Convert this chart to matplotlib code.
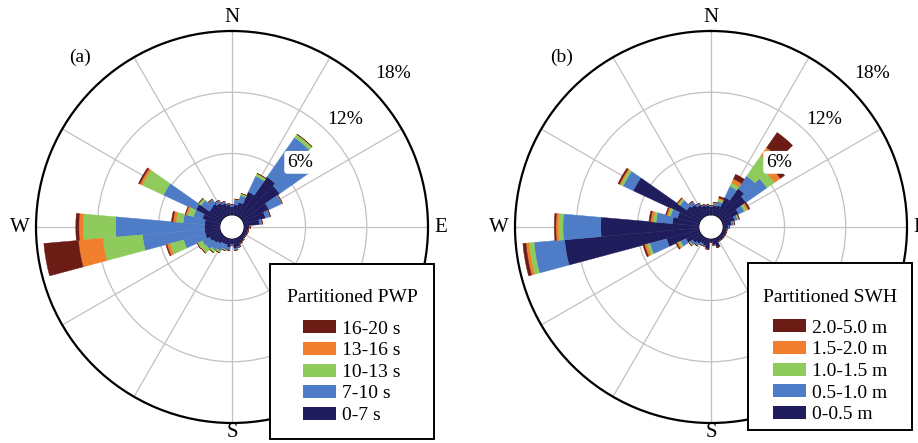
import matplotlib
matplotlib.use("Agg")
import matplotlib.pyplot as plt
from matplotlib.patches import Patch, Rectangle
import numpy as np

plt.rcParams['font.family'] = ['Liberation Serif', 'DejaVu Serif']

# direction sectors (deg, clockwise from N), 10 deg bins
directions = np.arange(0, 360, 10)

# (a) partitioned peak wave period, frequency in % per class
pwp_labels = ["0-7 s", "7-10 s", "10-13 s", "13-16 s", "16-20 s"]
pwp_0_7 = [0.8, 1.0, 1.3, 2.6, 4.8, 4.5, 2.8, 2.2, 1.5, 0.5, 0.4, 0.4,
           0.4, 0.4, 0.5, 0.6, 0.8, 0.9, 0.5, 0.8, 0.6, 0.6, 0.8, 1.0,
           1.2, 1.5, 1.5, 1.5, 1.5, 1.8, 2.7, 1.5, 1.6, 1.4, 1.2, 1.0]
pwp_7_10 = [0.2, 0.5, 0.7, 1.7, 4.7, 3.5, 1.4, 0.5, 0.3, 0.1, 0.05, 0.05,
            0.0, 0.0, 0.0, 0.0, 0.1, 0.2, 0.1, 0.3, 0.5, 0.8, 0.8, 0.9,
            0.8, 2.2, 6.1, 8.7, 2.1, 0.9, 3.5, 1.0, 0.5, 0.3, 0.2, 0.1]
pwp_10_13 = [0.0, 0.05, 0.2, 0.3, 0.4, 0.1, 0.05, 0.0, 0.0, 0.0, 0.0, 0.0,
             0.0, 0.0, 0.0, 0.0, 0.0, 0.0, 0.0, 0.0, 0.1, 0.2, 0.3, 0.5,
             0.5, 1.4, 3.9, 3.2, 0.7, 0.6, 2.3, 0.3, 0.05, 0.0, 0.0, 0.0]
pwp_13_16 = [0.0, 0.0, 0.0, 0.0, 0.0, 0.0, 0.0, 0.0, 0.0, 0.0, 0.0, 0.0,
             0.0, 0.0, 0.0, 0.0, 0.0, 0.0, 0.0, 0.0, 0.0, 0.0, 0.0, 0.05,
             0.05, 0.3, 2.4, 0.4, 0.3, 0.2, 0.25, 0.0, 0.0, 0.0, 0.0, 0.0]
pwp_16_20 = [0.0, 0.0, 0.0, 0.0, 0.0, 0.0, 0.0, 0.0, 0.0, 0.0, 0.0, 0.0,
             0.0, 0.0, 0.0, 0.0, 0.0, 0.0, 0.0, 0.0, 0.0, 0.0, 0.0, 0.0,
             0.0, 0.1, 3.4, 0.3, 0.15, 0.05, 0.15, 0.0, 0.0, 0.0, 0.0, 0.0]

# (b) partitioned significant wave height, frequency in % per class
swh_labels = ["0-0.5 m", "0.5-1.0 m", "1.0-1.5 m", "1.5-2.0 m", "2.0-5.0 m"]
swh_0_05 = [0.8, 0.9, 1.0, 2.0, 3.4, 3.0, 1.8, 1.2, 0.8, 0.5, 0.4, 0.4,
            0.4, 0.4, 0.4, 0.4, 0.9, 0.6, 0.3, 1.0, 0.7, 0.6, 0.8, 1.0,
            1.5, 3.3, 13.2, 9.6, 2.6, 2.2, 7.2, 1.7, 1.5, 1.2, 1.0, 0.9]
swh_05_10 = [0.1, 0.2, 0.4, 1.2, 1.5, 2.5, 0.6, 0.3, 0.2, 0.1, 0.0, 0.0,
             0.0, 0.0, 0.0, 0.0, 0.0, 0.0, 0.0, 0.0, 0.1, 0.2, 0.3, 0.3,
             0.6, 1.7, 3.0, 3.7, 1.6, 0.7, 1.1, 0.8, 0.4, 0.2, 0.1, 0.1]
swh_10_15 = [0.0, 0.05, 0.2, 0.4, 2.4, 0.9, 0.3, 0.1, 0.05, 0.0, 0.0, 0.0,
             0.0, 0.0, 0.0, 0.0, 0.0, 0.0, 0.0, 0.0, 0.0, 0.0, 0.0, 0.1,
             0.25, 0.3, 0.5, 0.45, 0.3, 0.25, 0.25, 0.2, 0.0, 0.0, 0.0, 0.0]
swh_15_20 = [0.0, 0.05, 0.15, 0.4, 1.0, 0.7, 0.15, 0.05, 0.05, 0.0, 0.0, 0.0,
             0.0, 0.0, 0.0, 0.0, 0.0, 0.0, 0.0, 0.0, 0.0, 0.0, 0.0, 0.05,
             0.15, 0.25, 0.3, 0.25, 0.25, 0.15, 0.15, 0.1, 0.0, 0.0, 0.0, 0.0]
swh_20_50 = [0.0, 0.05, 0.15, 0.5, 1.8, 0.5, 0.15, 0.05, 0.05, 0.0, 0.0, 0.0,
             0.0, 0.0, 0.0, 0.0, 0.0, 0.0, 0.0, 0.0, 0.0, 0.0, 0.0, 0.0,
             0.1, 0.15, 0.3, 0.15, 0.15, 0.1, 0.15, 0.05, 0.0, 0.0, 0.0, 0.0]

colors = ["#201d5c", "#4f7cc6", "#8ecb5c", "#f07e2c", "#6b1c15"]
ring_ticks = [6, 12, 18]

W, H = 918, 443
fig = plt.figure(figsize=(W / 100, H / 100), dpi=100)


def fx(px):
    return px / W


def fy(py):
    return 1 - py / H


def draw_rose(ax, series, labels, title, box):
    ax.set_theta_zero_location('N')
    ax.set_theta_direction(-1)
    ax.set_rorigin(-1.2)
    ax.set_ylim(0, 18)
    theta = np.deg2rad(directions)
    width = np.deg2rad(10)
    bottom = np.zeros(len(directions))
    for vals, c in zip(series, colors):
        vals = np.asarray(vals)
        ax.bar(theta, vals, width=width, bottom=bottom, color=c,
               edgecolor=c, linewidth=0.3, zorder=3)
        bottom = bottom + vals
    ax.set_xticks(np.deg2rad(np.arange(0, 360, 30)))
    ax.set_xticklabels([])
    ax.set_yticks(ring_ticks)
    ax.set_yticklabels([])
    ax.grid(True, color="#c4c0c0", linewidth=0.9)
    ax.set_axisbelow(True)
    ax.spines['polar'].set_linewidth(1.6)
    ax.tick_params(length=0)

    for ang, lab, r in zip([0, 90, 180, 270], ["N", "E", "S", "W"],
                           [19.3, 19.2, 18.9, 19.6]):
        ax.text(np.deg2rad(ang), r, lab, ha='center', va='center',
                fontsize=15, clip_on=False)
    for r, lab in zip([8.0, 14.1, 20.6], ["6%", "12%", "18%"]):
        kw = {}
        if lab == "6%":
            kw['bbox'] = dict(boxstyle='round,pad=0.15', fc='white', ec='none')
        ax.text(np.deg2rad(46.5), r, lab, ha='center', va='center',
                fontsize=14, clip_on=False, zorder=6, **kw)

    # legend frame drawn by hand, legend itself without frame
    x0, y0, x1, y1 = box
    fig.patches.append(Rectangle((fx(x0), fy(y1)), fx(x1) - fx(x0),
                                 fy(y0) - fy(y1), transform=fig.transFigure,
                                 facecolor='white', edgecolor='black',
                                 linewidth=1.4, zorder=8))
    handles = [Patch(facecolor=c, edgecolor='none') for c in colors][::-1]
    leg = fig.legend(handles, labels[::-1], title=title, loc='upper center',
                     bbox_to_anchor=(fx((x0 + x1) / 2), fy(y0 + 8)),
                     fontsize=14, title_fontsize=14, frameon=False,
                     handlelength=1.7, handleheight=0.65, labelspacing=0.22,
                     handletextpad=0.3, borderpad=0.9, borderaxespad=0)
    leg._legend_box.sep = 10
    leg.set_zorder(10)


r_px = 196
ax1 = fig.add_axes([fx(232 - r_px), fy(227 + r_px), 2 * r_px / W, 2 * r_px / H],
                   projection='polar')
ax2 = fig.add_axes([fx(711 - r_px), fy(227 + r_px), 2 * r_px / W, 2 * r_px / H],
                   projection='polar')

draw_rose(ax1, [pwp_0_7, pwp_7_10, pwp_10_13, pwp_13_16, pwp_16_20],
          pwp_labels, "Partitioned PWP", (270, 264, 434, 439))
draw_rose(ax2, [swh_0_05, swh_05_10, swh_10_15, swh_15_20, swh_20_50],
          swh_labels, "Partitioned SWH", (748, 263, 912, 430))

fig.text(fx(80), fy(57), "(a)", fontsize=14, ha='center', va='center')
fig.text(fx(562), fy(57), "(b)", fontsize=14, ha='center', va='center')

fig.savefig("out.png", dpi=100)
